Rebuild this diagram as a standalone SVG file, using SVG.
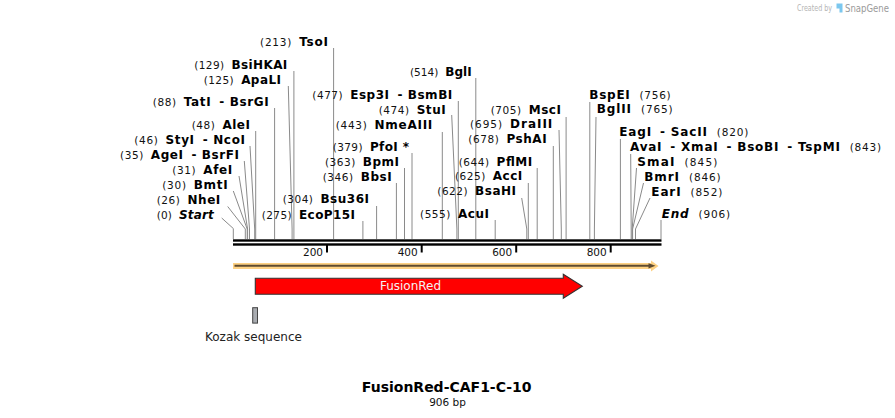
<svg xmlns="http://www.w3.org/2000/svg" width="895" height="418" viewBox="0 0 895 418">
<style>
text{font-family:"DejaVu Sans","Verdana",sans-serif;fill:#000}
.lab{font-size:10.5px}
.n{font-size:10.5px;font-weight:normal;fill:#111}
.b{font-size:12px;font-weight:bold}
.i{font-style:italic}
.cn line,.cn polyline{stroke:#8a8a8a;stroke-width:1;fill:none}
.tk{stroke:#000;stroke-width:2}
.tkl{font-size:10.5px;text-anchor:end;fill:#111}
.lg1{font-size:8px;fill:#b4b4b4}
.lg2{font-size:10px;fill:#9a9a9a}
.fr{font-size:12px;text-anchor:middle;fill:#f6f2f2}
.kz{font-size:12px;fill:#222}
.ttl{font-size:14px;font-weight:bold;text-anchor:middle}
.sub{font-size:10.5px;text-anchor:middle;fill:#111}
</style>
<rect width="895" height="418" fill="#fff"/>
<g id="logo">
<text class="lg1" x="797" y="10.5" textLength="35" lengthAdjust="spacingAndGlyphs">Created by</text>
<path d="M836.5 3.5h6v9h-3v-4h-3z" fill="#7cc7ee"/>
<text class="lg2" x="845" y="11.5" textLength="44" lengthAdjust="spacingAndGlyphs">SnapGene</text>
</g>
<g id="connectors" class="cn">
<line x1="333.6" y1="48" x2="333.6" y2="239"/>
<line x1="293.9" y1="71" x2="293.9" y2="239"/>
<polyline points="288.3,86 292.1,229 292.1,239"/>
<line x1="274.6" y1="108" x2="274.6" y2="239"/>
<line x1="255.7" y1="131" x2="255.7" y2="239"/>
<polyline points="250,146 254.7,229 254.7,239"/>
<polyline points="244.3,161 249.5,229 249.5,239"/>
<polyline points="239,176 247.6,229 247.6,239"/>
<polyline points="233.3,191 247.2,229 247.2,239"/>
<polyline points="227.7,206.5 245.3,229 245.3,239"/>
<polyline points="221.7,218 233.3,228.5 233.3,239"/>
<line x1="376.6" y1="206" x2="376.6" y2="239"/>
<line x1="362.9" y1="221" x2="362.9" y2="239"/>
<line x1="396.4" y1="183" x2="396.4" y2="239"/>
<line x1="404.5" y1="168" x2="404.5" y2="239"/>
<line x1="412" y1="153" x2="412" y2="239"/>
<line x1="442.3" y1="132" x2="442.3" y2="239"/>
<polyline points="451.7,115 456.9,229 456.9,239"/>
<line x1="458.3" y1="101" x2="458.3" y2="239"/>
<line x1="475.8" y1="78" x2="475.8" y2="239"/>
<line x1="495.2" y1="220" x2="495.2" y2="239"/>
<polyline points="521.7,198 526.8,229 526.8,239"/>
<line x1="528.3" y1="183" x2="528.3" y2="239"/>
<line x1="537.2" y1="168" x2="537.2" y2="239"/>
<line x1="553.3" y1="146" x2="553.3" y2="239"/>
<polyline points="559,130 561.3,229 561.3,239"/>
<line x1="566.1" y1="117" x2="566.1" y2="239"/>
<line x1="589.8" y1="102" x2="589.8" y2="239"/>
<polyline points="596,117 594.4,229 594.4,239"/>
<line x1="620.4" y1="139" x2="620.4" y2="239"/>
<polyline points="630.7,154 631.2,229 631.2,239"/>
<polyline points="636.5,168 632.2,229 632.2,239"/>
<polyline points="643.5,183 632.6,229 632.6,239"/>
<polyline points="650,198 635.5,229 635.5,239"/>
<line x1="661" y1="220" x2="661" y2="239"/>
</g>
<g id="labels">
<g id="TsoI"><text class="lab" x="260" y="46" textLength="68" lengthAdjust="spacing"><tspan class="n">(213)</tspan><tspan class="b" dx="7">TsoI</tspan></text></g>
<g id="BsiHKAI"><text class="lab" x="194.3" y="69" textLength="93" lengthAdjust="spacing"><tspan class="n">(129)</tspan><tspan class="b" dx="7">BsiHKAI</tspan></text></g>
<g id="ApaLI"><text class="lab" x="203.7" y="84" textLength="77.3" lengthAdjust="spacing"><tspan class="n">(125)</tspan><tspan class="b" dx="7">ApaLI</tspan></text></g>
<g id="TatI"><text class="lab" x="152.7" y="106" textLength="116" lengthAdjust="spacing"><tspan class="n">(88)</tspan><tspan class="b" dx="7">TatI</tspan><tspan class="b" dx="8">- BsrGI</tspan></text></g>
<g id="AleI"><text class="lab" x="191.7" y="129" textLength="58.3" lengthAdjust="spacing"><tspan class="n">(48)</tspan><tspan class="b" dx="7">AleI</tspan></text></g>
<g id="StyI"><text class="lab" x="134.3" y="144" textLength="110.7" lengthAdjust="spacing"><tspan class="n">(46)</tspan><tspan class="b" dx="7">StyI</tspan><tspan class="b" dx="8">- NcoI</tspan></text></g>
<g id="AgeI"><text class="lab" x="120" y="159" textLength="119" lengthAdjust="spacing"><tspan class="n">(35)</tspan><tspan class="b" dx="7">AgeI</tspan><tspan class="b" dx="8">- BsrFI</tspan></text></g>
<g id="AfeI"><text class="lab" x="172.3" y="174" textLength="60" lengthAdjust="spacing"><tspan class="n">(31)</tspan><tspan class="b" dx="7">AfeI</tspan></text></g>
<g id="BmtI"><text class="lab" x="162.3" y="189" textLength="65.4" lengthAdjust="spacing"><tspan class="n">(30)</tspan><tspan class="b" dx="7">BmtI</tspan></text></g>
<g id="NheI"><text class="lab" x="156.7" y="204" textLength="63.6" lengthAdjust="spacing"><tspan class="n">(26)</tspan><tspan class="b" dx="7">NheI</tspan></text></g>
<g id="Start"><text class="lab" x="156.7" y="219" textLength="57" lengthAdjust="spacing"><tspan class="n">(0)</tspan><tspan class="b i" dx="7">Start</tspan></text></g>
<g id="Bsu36I"><text class="lab" x="282.7" y="203" textLength="86.3" lengthAdjust="spacing"><tspan class="n">(304)</tspan><tspan class="b" dx="7">Bsu36I</tspan></text></g>
<g id="EcoP15I"><text class="lab" x="261.7" y="218.5" textLength="93.3" lengthAdjust="spacing"><tspan class="n">(275)</tspan><tspan class="b" dx="7">EcoP15I</tspan></text></g>
<g id="BbsI"><text class="lab" x="322.7" y="180.5" textLength="69" lengthAdjust="spacing"><tspan class="n">(346)</tspan><tspan class="b" dx="7">BbsI</tspan></text></g>
<g id="BpmI"><text class="lab" x="325" y="166" textLength="74" lengthAdjust="spacing"><tspan class="n">(363)</tspan><tspan class="b" dx="7">BpmI</tspan></text></g>
<g id="PfoI"><text class="lab" x="332.7" y="150.5" textLength="76.3" lengthAdjust="spacing"><tspan class="n">(379)</tspan><tspan class="b" dx="7">PfoI *</tspan></text></g>
<g id="NmeAIII"><text class="lab" x="335.7" y="129" textLength="96.6" lengthAdjust="spacing"><tspan class="n">(443)</tspan><tspan class="b" dx="7">NmeAIII</tspan></text></g>
<g id="StuI"><text class="lab" x="378.7" y="113.5" textLength="67" lengthAdjust="spacing"><tspan class="n">(474)</tspan><tspan class="b" dx="7">StuI</tspan></text></g>
<g id="Esp3I"><text class="lab" x="312.3" y="98.5" textLength="140" lengthAdjust="spacing"><tspan class="n">(477)</tspan><tspan class="b" dx="7">Esp3I</tspan><tspan class="b" dx="8">- BsmBI</tspan></text></g>
<g id="BglI"><text class="lab" x="410" y="76" textLength="61.7" lengthAdjust="spacing"><tspan class="n">(514)</tspan><tspan class="b" dx="7">BglI</tspan></text></g>
<g id="AcuI"><text class="lab" x="420" y="217.5" textLength="69" lengthAdjust="spacing"><tspan class="n">(555)</tspan><tspan class="b" dx="7">AcuI</tspan></text></g>
<g id="BsaHI"><text class="lab" x="437.3" y="195" textLength="78.7" lengthAdjust="spacing"><tspan class="n">(622)</tspan><tspan class="b" dx="7">BsaHI</tspan></text></g>
<g id="AccI"><text class="lab" x="455" y="180" textLength="67.3" lengthAdjust="spacing"><tspan class="n">(625)</tspan><tspan class="b" dx="7">AccI</tspan></text></g>
<g id="PflMI"><text class="lab" x="458.7" y="166" textLength="73.6" lengthAdjust="spacing"><tspan class="n">(644)</tspan><tspan class="b" dx="7">PflMI</tspan></text></g>
<g id="PshAI"><text class="lab" x="468.3" y="142.7" textLength="78.4" lengthAdjust="spacing"><tspan class="n">(678)</tspan><tspan class="b" dx="7">PshAI</tspan></text></g>
<g id="DraIII"><text class="lab" x="470" y="128.3" textLength="82.3" lengthAdjust="spacing"><tspan class="n">(695)</tspan><tspan class="b" dx="7">DraIII</tspan></text></g>
<g id="MscI"><text class="lab" x="490.7" y="114" textLength="70.3" lengthAdjust="spacing"><tspan class="n">(705)</tspan><tspan class="b" dx="7">MscI</tspan></text></g>
<g id="BspEI"><text class="lab" x="589.3" y="99" textLength="81.4" lengthAdjust="spacing"><tspan class="b">BspEI</tspan><tspan class="n" dx="9">(756)</tspan></text></g>
<g id="BglII"><text class="lab" x="596.7" y="113.3" textLength="76" lengthAdjust="spacing"><tspan class="b">BglII</tspan><tspan class="n" dx="9">(765)</tspan></text></g>
<g id="EagI"><text class="lab" x="619.3" y="135.7" textLength="129" lengthAdjust="spacing"><tspan class="b">EagI</tspan><tspan class="b" dx="8">- SacII</tspan><tspan class="n" dx="9">(820)</tspan></text></g>
<g id="AvaI"><text class="lab" x="630" y="150.7" textLength="251" lengthAdjust="spacing"><tspan class="b">AvaI</tspan><tspan class="b" dx="8">- XmaI</tspan><tspan class="b" dx="8">- BsoBI</tspan><tspan class="b" dx="8">- TspMI</tspan><tspan class="n" dx="9">(843)</tspan></text></g>
<g id="SmaI"><text class="lab" x="637.3" y="166" textLength="80" lengthAdjust="spacing"><tspan class="b">SmaI</tspan><tspan class="n" dx="9">(845)</tspan></text></g>
<g id="BmrI"><text class="lab" x="644.3" y="180.7" textLength="76.4" lengthAdjust="spacing"><tspan class="b">BmrI</tspan><tspan class="n" dx="9">(846)</tspan></text></g>
<g id="EarI"><text class="lab" x="651.3" y="195.7" textLength="71" lengthAdjust="spacing"><tspan class="b">EarI</tspan><tspan class="n" dx="9">(852)</tspan></text></g>
<g id="End"><text class="lab" x="661.7" y="217.7" textLength="68.3" lengthAdjust="spacing"><tspan class="b i">End</tspan><tspan class="n" dx="9">(906)</tspan></text></g>
</g>
<g id="sequence">
<rect x="233" y="239.3" width="428.5" height="2.4" fill="#000"/>
<rect x="233" y="243.3" width="428.5" height="2.4" fill="#000"/>
<line class="tk" x1="327" y1="245" x2="327" y2="252.5"/>
<line class="tk" x1="421.7" y1="245" x2="421.7" y2="252.5"/>
<line class="tk" x1="516.2" y1="245" x2="516.2" y2="252.5"/>
<line class="tk" x1="610.7" y1="245" x2="610.7" y2="252.5"/>
<text class="tkl" x="323" y="256">200</text>
<text class="tkl" x="417.7" y="256">400</text>
<text class="tkl" x="512.2" y="256">600</text>
<text class="tkl" x="606.7" y="256">800</text>
</g>
<g id="orf">
<polygon points="233,263 651,263 651,260.5 658.5,266 651,271.5 651,269 233,269" fill="#fdd184"/>
<line x1="234.5" y1="265.8" x2="650" y2="265.8" stroke="#5e4b30" stroke-width="2"/>
<polygon points="648.5,263.2 655.5,265.8 648.5,268.4" fill="#5e4b30"/>
</g>
<g id="FusionRed">
<polygon points="255.3,278.3 563.3,278.3 563.3,274.3 582.3,286.3 563.3,298.3 563.3,294.3 255.3,294.3" fill="#ff0000" stroke="#333" stroke-width="1.1"/>
<text class="fr" x="410.5" y="290">FusionRed</text>
</g>
<g id="Kozak">
<rect x="252.7" y="307.7" width="4.8" height="15.4" fill="#a9acb1" stroke="#444" stroke-width="1"/>
<text class="kz" x="205" y="340.5">Kozak sequence</text>
</g>
<g id="title">
<text class="ttl" x="446.7" y="391.7">FusionRed-CAF1-C-10</text>
<text class="sub" x="447.5" y="406">906 bp</text>
</g>
</svg>
